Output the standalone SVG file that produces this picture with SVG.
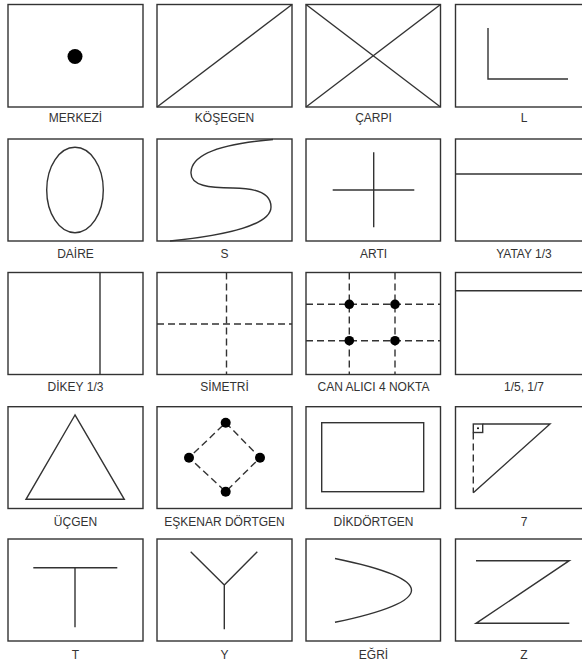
<svg xmlns="http://www.w3.org/2000/svg" width="582" height="664" viewBox="0 0 582 664">
<defs>
<style>
.box{fill:#fff;stroke:#333;stroke-width:1.4}
.ln{fill:none;stroke:#333;stroke-width:1.4}
.dash{fill:none;stroke:#333;stroke-width:1.4;stroke-dasharray:7 4}
.dot{fill:#000}
.lbl{font-family:"Liberation Sans",Arial,sans-serif;font-size:12px;fill:#333;text-anchor:middle}
</style>
</defs>
<rect width="582" height="664" fill="#fff"/>
<g id="merkezi">
<rect class="box" x="8" y="4.5" width="135" height="102.5"/>
<circle class="dot" cx="75" cy="56.5" r="7.5"/>
<text class="lbl" x="75.5" y="122">MERKEZİ</text>
</g>
<g id="kosegen">
<rect class="box" x="157" y="4.5" width="135" height="102.5"/>
<line class="ln" x1="157" y1="107" x2="292" y2="4.5"/>
<text class="lbl" x="224.5" y="122">KÖŞEGEN</text>
</g>
<g id="carpi">
<rect class="box" x="306" y="4.5" width="134.5" height="102.5"/>
<line class="ln" x1="306" y1="107" x2="440.5" y2="4.5"/>
<line class="ln" x1="306" y1="4.5" x2="440.5" y2="107"/>
<text class="lbl" x="373.5" y="122">ÇARPI</text>
</g>
<g id="l">
<rect class="box" x="455.5" y="4.5" width="135" height="102.5"/>
<path class="ln" d="M488,28 V79 H568"/>
<text class="lbl" x="524" y="122">L</text>
</g>
<g id="daire">
<rect class="box" x="8" y="139" width="135" height="102"/>
<ellipse class="ln" cx="75" cy="190" rx="28.3" ry="42.7"/>
<text class="lbl" x="75.5" y="257.5">DAİRE</text>
</g>
<g id="s">
<rect class="box" x="157" y="139" width="135" height="102"/>
<path class="ln" d="M273,139.5 C230,143 192,152 191,172 C190,186 210,188 233,188 C262,188 271,196 271,207 C271,224 230,235 170,241"/>
<text class="lbl" x="224.5" y="257.5">S</text>
</g>
<g id="arti">
<rect class="box" x="306" y="139" width="134.5" height="102"/>
<line class="ln" x1="373.7" y1="152.3" x2="373.7" y2="227.3"/>
<line class="ln" x1="332.7" y1="190" x2="414.3" y2="190"/>
<text class="lbl" x="373.5" y="257.5">ARTI</text>
</g>
<g id="yatay">
<rect class="box" x="455.5" y="139" width="135" height="102"/>
<line class="ln" x1="455.5" y1="174" x2="590.5" y2="174"/>
<text class="lbl" x="524" y="257.5">YATAY 1/3</text>
</g>
<g id="dikey">
<rect class="box" x="8" y="272.5" width="135" height="102"/>
<line class="ln" x1="100" y1="272.5" x2="100" y2="374.5"/>
<text class="lbl" x="75.5" y="391">DİKEY 1/3</text>
</g>
<g id="simetri">
<rect class="box" x="157" y="272.5" width="135" height="102"/>
<line class="dash" x1="226.5" y1="272.5" x2="226.5" y2="374.5"/>
<line class="dash" x1="157" y1="324" x2="292" y2="324"/>
<text class="lbl" x="224.5" y="391">SİMETRİ</text>
</g>
<g id="canalici">
<rect class="box" x="306" y="272.5" width="134.5" height="102"/>
<line class="dash" x1="349.3" y1="272.5" x2="349.3" y2="374.5"/>
<line class="dash" x1="395" y1="272.5" x2="395" y2="374.5"/>
<line class="dash" x1="306" y1="304.3" x2="440.5" y2="304.3"/>
<line class="dash" x1="306" y1="340.7" x2="440.5" y2="340.7"/>
<circle class="dot" cx="349.3" cy="304.3" r="4.8"/>
<circle class="dot" cx="395" cy="304.3" r="4.8"/>
<circle class="dot" cx="349.3" cy="340.7" r="4.8"/>
<circle class="dot" cx="395" cy="340.7" r="4.8"/>
<text class="lbl" x="373.5" y="391">CAN ALICI 4 NOKTA</text>
</g>
<g id="bes-yedi">
<rect class="box" x="455.5" y="272.5" width="135" height="102"/>
<line class="ln" x1="455.5" y1="290.7" x2="590.5" y2="290.7"/>
<text class="lbl" x="524" y="391">1/5, 1/7</text>
</g>
<g id="ucgen">
<rect class="box" x="8" y="406.7" width="135" height="101.8"/>
<path class="ln" d="M75,415 L26,499.3 L124.3,499.3 Z"/>
<text class="lbl" x="75.5" y="525.5">ÜÇGEN</text>
</g>
<g id="eskenar">
<rect class="box" x="157" y="406.7" width="135" height="101.8"/>
<path class="dash" d="M225.7,422.7 L260,457.7 L225.7,491.7 L189,457.7 Z"/>
<circle class="dot" cx="225.7" cy="422.7" r="5"/>
<circle class="dot" cx="260" cy="457.7" r="5"/>
<circle class="dot" cx="225.7" cy="491.7" r="5"/>
<circle class="dot" cx="189" cy="457.7" r="5"/>
<text class="lbl" x="224.5" y="525.5">EŞKENAR DÖRTGEN</text>
</g>
<g id="dikdortgen">
<rect class="box" x="306" y="406.7" width="134.5" height="101.8"/>
<rect class="ln" x="321.7" y="422.7" width="102" height="69"/>
<text class="lbl" x="373.5" y="525.5">DİKDÖRTGEN</text>
</g>
<g id="yedi">
<rect class="box" x="455.5" y="406.7" width="135" height="101.8"/>
<rect class="ln" x="473.3" y="424" width="9.4" height="8.5"/>
<circle class="dot" cx="478" cy="428.3" r="1"/>
<path class="ln" d="M482.7,424 H550 L473.3,492.7"/>
<line class="dash" x1="473.3" y1="432.5" x2="473.3" y2="492.7"/>
<text class="lbl" x="524" y="525.5">7</text>
</g>
<g id="t">
<rect class="box" x="8" y="539" width="135" height="102"/>
<line class="ln" x1="33.3" y1="567.7" x2="117.3" y2="567.7"/>
<line class="ln" x1="75" y1="567.7" x2="75" y2="627.3"/>
<text class="lbl" x="75.5" y="658.5">T</text>
</g>
<g id="y">
<rect class="box" x="157" y="539" width="135" height="102"/>
<path class="ln" d="M190.7,551.7 L224.3,585 L257.3,551.7 M224.3,585 V629.3"/>
<text class="lbl" x="224.5" y="658.5">Y</text>
</g>
<g id="egri">
<rect class="box" x="306" y="539" width="134.5" height="102"/>
<path class="ln" d="M335,558.5 Q488,590 335,622.3"/>
<text class="lbl" x="373.5" y="658.5">EĞRİ</text>
</g>
<g id="z">
<rect class="box" x="455.5" y="539" width="135" height="102"/>
<path class="ln" d="M476,560.7 H569.3 L476,623.3 H569.3"/>
<text class="lbl" x="524" y="658.5">Z</text>
</g>
<g id="connectors"/>
</svg>
